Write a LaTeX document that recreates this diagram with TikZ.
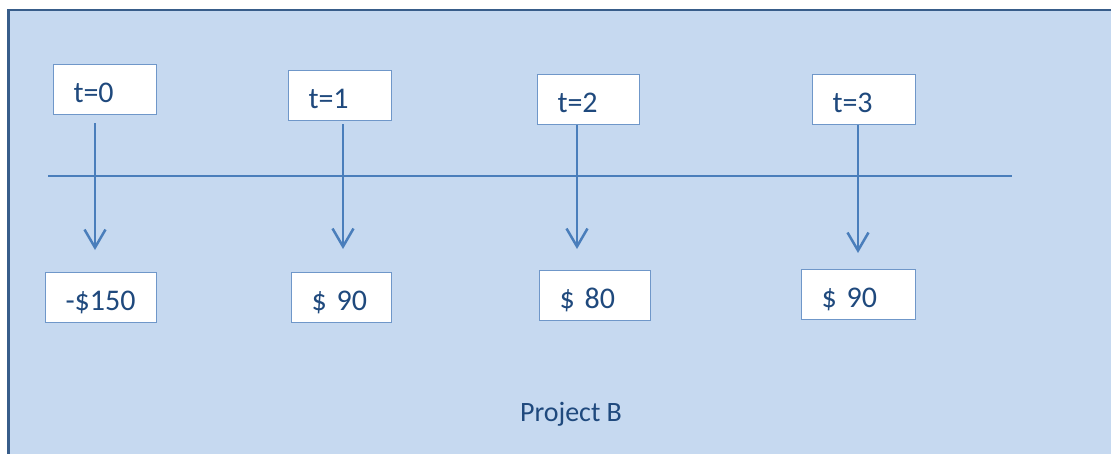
\documentclass[tikz,border=0pt]{standalone}
\usepackage{fontspec}
\setmainfont{Carlito}
\usetikzlibrary{arrows.meta}
\definecolor{panelfill}{HTML}{C6D9F0}
\definecolor{panelline}{HTML}{385D8A}
\definecolor{boxline}{HTML}{6F97C9}
\definecolor{flowline}{HTML}{4A7EBB}
\definecolor{labeltext}{HTML}{1F497D}
\tikzset{
  stampbox/.style={draw=boxline, fill=white, line width=1pt, anchor=north west,
    inner xsep=20pt, inner ysep=0pt, text height=37.5pt, text depth=12.5pt,
    text width=#1, align=left, text=labeltext,
    font=\fontsize{30}{36}\selectfont},
  flow/.style={draw=flowline, line width=2.5pt,
    -{Straight Barb[length=18pt,width=21pt,line width=2.5pt]}},
  axisline/.style={draw=flowline, line width=1.6pt},
}
\begin{document}
\begin{tikzpicture}[x=1pt,y=-1pt]
  \useasboundingbox (0,0) rectangle (1111,453);
  \clip (0,0) rectangle (1111,453);
  \fill[white] (0,0) rectangle (1111,453);
  % panel
  \draw[fill=panelfill, draw=panelline, line width=2.5pt] (8.5,10) rectangle (1130,475);

  % time axis
  \coordinate (axisL) at (48,176);
  \coordinate (axisR) at (1012,176);
  \draw[axisline] (axisL) -- (axisR);

  % period labels
  \node[stampbox=63pt] (t0) at (53,64) {t=0};
  \node[stampbox=63pt] (t1) at (288,70) {t=1};
  \node[stampbox=62pt] (t2) at (537,74) {t=2};
  \node[stampbox=63pt] (t3) at (812,74) {t=3};

  % cash flows
  \node[stampbox=71pt] (v0) at (45,272) {-\$150};
  \node[stampbox=60pt] (v1) at (291,272) {\$ 90};
  \node[stampbox=71pt] (v2) at (539,270) {\$ 80};
  \node[stampbox=74pt] (v3) at (801,269) {\$ 90};

  % arrow tips
  \coordinate (a0) at (95,250);
  \coordinate (a1) at (343,249);
  \coordinate (a2) at (577,249);
  \coordinate (a3) at (858,253);

  \draw[flow] ([yshift=-8pt]t0.south -| a0) -- (a0);
  \draw[flow] ([yshift=-3pt]t1.south -| a1) -- (a1);
  \draw[flow] (t2.south -| a2) -- (a2);
  \draw[flow] (t3.south -| a3) -- (a3);

  \node[anchor=base, text=labeltext, font=\fontsize{28}{34}\selectfont, inner sep=0pt]
    (title) at (571,421) {Project B};
\end{tikzpicture}
\end{document}
